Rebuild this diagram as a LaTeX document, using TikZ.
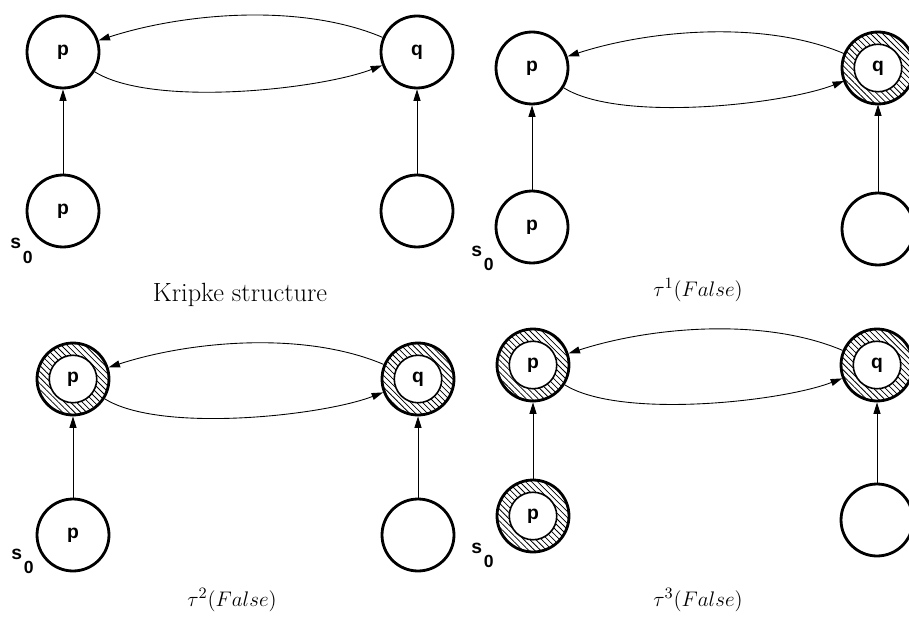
\documentclass[tikz,border=0pt]{standalone}
\usepackage{fontspec}
\newfontfamily\helv{Liberation Sans}
\usetikzlibrary{arrows.meta, patterns.meta}

\begin{document}
\begin{tikzpicture}[
  x=0.02cm, y=0.02cm,
  state/.style={draw, circle, line width=1.6pt, minimum size=1.44cm, inner sep=0pt,
    font=\helv\bfseries\fontsize{11}{13}\selectfont},
  marked/.style={state,
    pattern={Lines[angle=-45, distance=2.4pt, line width=0.45pt]},
    path picture={\draw[fill=white, line width=0.9pt]
      (path picture bounding box.center) circle (0.475cm);}},
  trans/.style={-{Triangle[length=6.5pt, width=4pt]}, line width=0.5pt},
  caption/.style={font=\fontsize{15}{18}\selectfont},
  init/.style={anchor=base west, inner sep=0pt,
    font=\helv\bfseries\fontsize{11}{13}\selectfont}
]
  \useasboundingbox (0,0) rectangle (909,-618);
  \clip (0,0) rectangle (909,-618);

  % --- Kripke structure ---
  \node[state] (p1) at (63,-52) {p};
  \node[state] (q1) at (417,-52) {q};
  \node[state] (s1) at (63,-211) {p};
  \node[state] (r1) at (417,-211) {};
  \node[init] (i1) at (10,-249) {s\kern1pt\raisebox{-8pt}{\fontsize{10}{12}\selectfont 0}};
  \node[caption] (c1) at (240,-295) {Kripke structure};

  % --- first iteration ---
  \node[state] (p2) at (532,-68) {p};
  \node[marked] (q2) at (878,-68) {q};
  \node[state] (s2) at (532,-227) {p};
  \node[state] (r2) at (878,-229) {};
  \node[init] (i2) at (471,-256) {s\kern1pt\raisebox{-8pt}{\fontsize{10}{12}\selectfont 0}};
  \node[caption] (c2) at (698,-290) {\fontsize{13}{15}\selectfont$\tau^1(False)$};

  % --- second iteration ---
  \node[marked] (p3) at (73,-379) {p};
  \node[marked] (q3) at (418,-379) {q};
  \node[state] (s3) at (73,-535) {p};
  \node[state] (r3) at (418,-535) {};
  \node[init] (i3) at (11,-559) {s\kern1pt\raisebox{-8pt}{\fontsize{10}{12}\selectfont 0}};
  \node[caption] (c3) at (232,-600) {\fontsize{13}{15}\selectfont$\tau^2(False)$};

  % --- third iteration ---
  \node[marked] (p4) at (533,-365) {p};
  \node[marked] (q4) at (877,-365) {q};
  \node[marked] (s4) at (533,-516) {p};
  \node[state] (r4) at (877,-520) {};
  \node[init] (i4) at (471,-553) {s\kern1pt\raisebox{-8pt}{\fontsize{10}{12}\selectfont 0}};
  \node[caption] (c4) at (698,-600) {\fontsize{13}{15}\selectfont$\tau^3(False)$};

  % transitions, same in every panel
  \foreach \k in {1,2,3,4} {
    \draw[trans] (q\k) to[out=157, in=18, looseness=0.8] (p\k);
    \draw[trans] (p\k) to[out=-32, in=-159, looseness=0.6] (q\k);
    \draw[trans] (s\k) -- (p\k);
    \draw[trans] (r\k) -- (q\k);
  }
\end{tikzpicture}
\end{document}
